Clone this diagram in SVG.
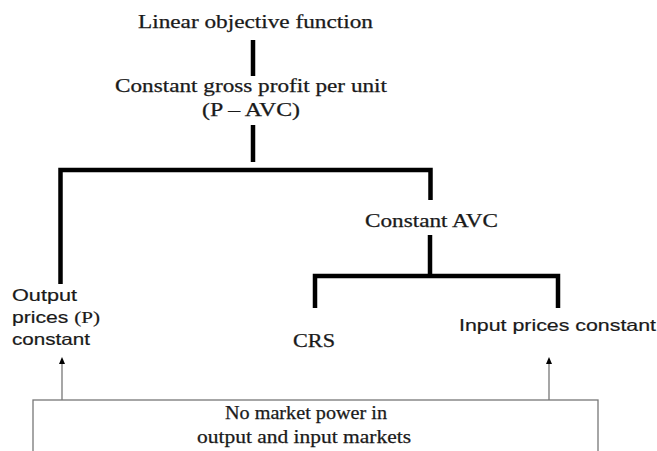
<svg xmlns="http://www.w3.org/2000/svg" width="657" height="451" viewBox="0 0 657 451">
<defs>
<style>
.serif{font-family:"Liberation Serif","Times New Roman",serif;font-size:18px;fill:#1a1a1a;stroke:#1a1a1a;stroke-width:0.25;}
.sans{font-family:"Liberation Sans",Arial,sans-serif;font-size:16.5px;fill:#1a1a1a;stroke:#1a1a1a;stroke-width:0.2;}
.thick{fill:none;stroke:#000;stroke-width:4.5;stroke-linejoin:miter;stroke-linecap:butt;}
.thin{fill:none;stroke:#777;stroke-width:1.3;}
</style>
</defs>
<rect width="657" height="451" fill="#fff"/>
<g id="connectors">
<path class="thick" d="M253,40 V76"/>
<path class="thick" d="M253,125 V162"/>
<path class="thick" d="M60.5,284 V170 H430.5 V200"/>
<path class="thick" d="M430,235 V275"/>
<path class="thick" d="M315,308 V276 H558 V308"/>
<path class="thin" d="M62,400 V360"/>
<path class="thin" d="M549,400 V360"/>
<path d="M59,364 L62,357 L65,364 Z" fill="#000"/>
<path d="M546,364 L549,357 L552,364 Z" fill="#000"/>
</g>
<g id="n-linear">
<text class="serif" x="138" y="28" textLength="235" lengthAdjust="spacingAndGlyphs">Linear objective function</text>
</g>
<g id="n-gross">
<text class="serif" x="115" y="92" textLength="272" lengthAdjust="spacingAndGlyphs">Constant gross profit per unit</text>
<text class="serif" x="202" y="116" textLength="98" lengthAdjust="spacingAndGlyphs">(P – AVC)</text>
</g>
<g id="n-avc">
<text class="serif" x="365" y="227" textLength="133" lengthAdjust="spacingAndGlyphs">Constant AVC</text>
</g>
<g id="n-output">
<text class="sans" x="12" y="301" textLength="65" lengthAdjust="spacingAndGlyphs">Output</text>
<text class="sans" x="12" y="323" textLength="88" lengthAdjust="spacingAndGlyphs">prices <tspan font-family="Liberation Serif, serif">(P)</tspan></text>
<text class="sans" x="12" y="345" textLength="78" lengthAdjust="spacingAndGlyphs">constant</text>
</g>
<g id="n-crs">
<text class="serif" x="293" y="347" textLength="42" lengthAdjust="spacingAndGlyphs">CRS</text>
</g>
<g id="n-input">
<text class="sans" x="459" y="331" textLength="197" lengthAdjust="spacingAndGlyphs">Input prices constant</text>
</g>
<g id="n-market">
<rect x="33" y="400" width="565" height="70" fill="#fff" stroke="#777" stroke-width="1.3"/>
<text class="serif" x="225" y="419" textLength="162" lengthAdjust="spacingAndGlyphs">No market power in</text>
<text class="serif" x="197" y="443" textLength="214" lengthAdjust="spacingAndGlyphs">output and input markets</text>
</g>
</svg>
